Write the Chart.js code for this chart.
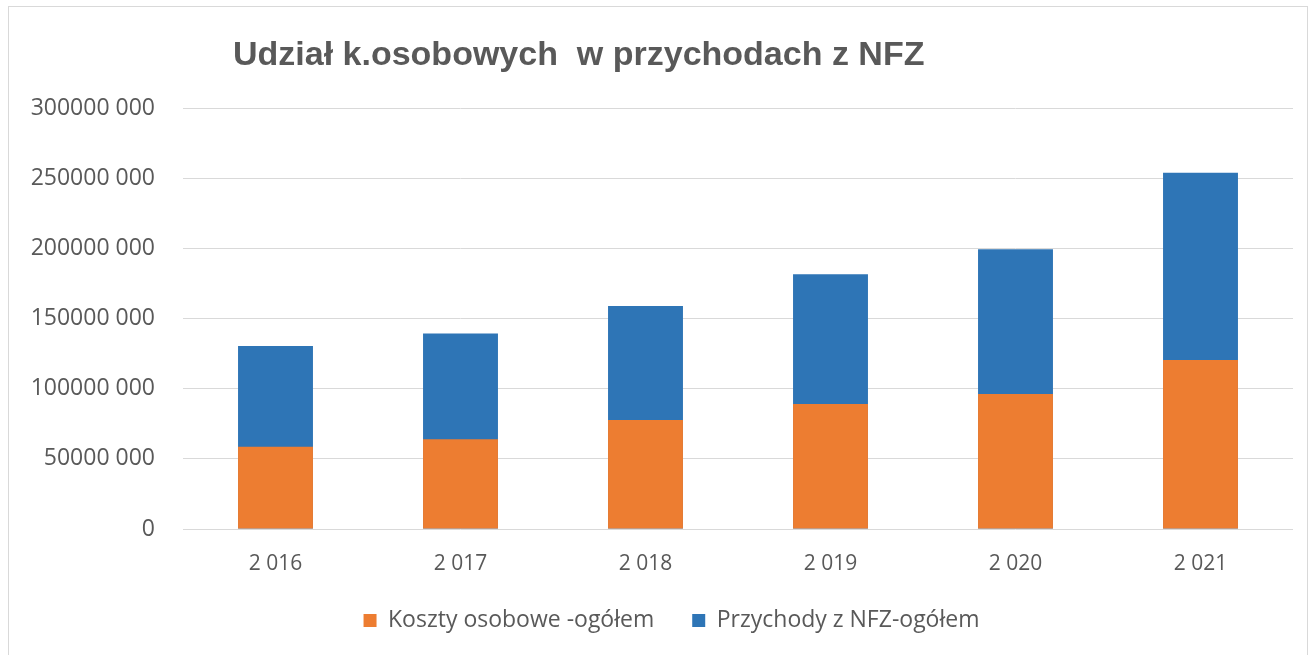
<!DOCTYPE html>
<html>
<head>
<meta charset="utf-8">
<script src="https://cdn.jsdelivr.net/npm/chart.js@4/dist/chart.umd.min.js"></script>
<style>
  html, body { margin:0; padding:0; background:#fff; }
  #wrap { position:relative; width:1316px; height:655px; overflow:hidden; }
  #frame { position:absolute; left:8px; top:6px; width:1300px; height:700px; border:1px solid #d9d9d9; box-sizing:border-box; }
  canvas { position:absolute; left:0; top:0; }
</style>
</head>
<body>
<div id="wrap">
  <div id="frame"></div>
  <canvas id="c" width="1316" height="655"></canvas>
</div>
<script>
const title = "Udział k.osobowych  w przychodach z NFZ";
const categories = ["2 016", "2 017", "2 018", "2 019", "2 020", "2 021"];
const seriesNames = ["Koszty osobowe -ogółem", "Przychody z NFZ-ogółem"];
const kosztyOsobowe = [58600000, 63900000, 77700000, 89100000, 96200000, 120400000];
const przychodyNFZ = [130400000, 139400000, 158900000, 181500000, 199300000, 253900000];
const yTickLabels = ["0", "50000 000", "100000 000", "150000 000", "200000 000", "250000 000", "300000 000"];

const textColor = "#595959";
const titlePlugin = {
  id: "leftTitle",
  afterDraw(chart) {
    const ctx = chart.ctx;
    ctx.save();
    ctx.font = "bold 34px 'Liberation Sans', Arial, sans-serif";
    ctx.fillStyle = textColor;
    ctx.textBaseline = "alphabetic";
    ctx.textAlign = "left";
    ctx.fillText(title, 233, 65);
    ctx.restore();
  }
};

const legendTweak = {
  id: "legendTweak",
  afterInit(chart) {
    const lg = chart.legend;
    if (!lg) return;
    const orig = lg.fit;
    lg.fit = function () { orig.call(this); this.height = 68; };
  },
  afterLayout(chart) {
    const lg = chart.legend;
    if (!lg) return;
    lg.left += 20;
    lg.right += 20;
  }
};

new Chart(document.getElementById("c"), {
  type: "bar",
  data: {
    labels: categories,
    datasets: [
      { label: seriesNames[0], data: kosztyOsobowe, backgroundColor: "#ED7D31", borderWidth: 0 },
      { label: seriesNames[1], data: przychodyNFZ, backgroundColor: "#2E75B6", borderWidth: 0 }
    ]
  },
  options: {
    responsive: false,
    animation: false,
    devicePixelRatio: 1,
    layout: { padding: { top: 108, left: 10, right: 23, bottom: 16 } },
    datasets: { bar: { grouped: false, categoryPercentage: 1, barPercentage: 0.405 } },
    scales: {
      x: {
        grid: { display: false },
        border: { display: false },
        ticks: { color: textColor, font: { family: "'Open Sans', sans-serif", size: 21 }, padding: 14 },
        afterFit(s) { s.height = 42; }
      },
      y: {
        min: 0, max: 300000000,
        grid: { color: "#d9d9d9", lineWidth: 1, drawTicks: false },
        border: { display: false },
        ticks: {
          stepSize: 50000000,
          color: textColor,
          font: { family: "'Open Sans', sans-serif", size: 23 },
          padding: 28,
          callback(v) { return yTickLabels[Math.round(v / 50000000)]; }
        },
        afterFit(s) { s.width = 173; }
      }
    },
    plugins: {
      title: { display: false },
      tooltip: { enabled: false },
      legend: {
        position: "bottom",
        labels: {
          color: textColor,
          font: { family: "'Open Sans', sans-serif", size: 23 },
          boxWidth: 13, boxHeight: 13, padding: 38
        }
      }
    }
  },
  plugins: [titlePlugin, legendTweak]
});
</script>
</body>
</html>
